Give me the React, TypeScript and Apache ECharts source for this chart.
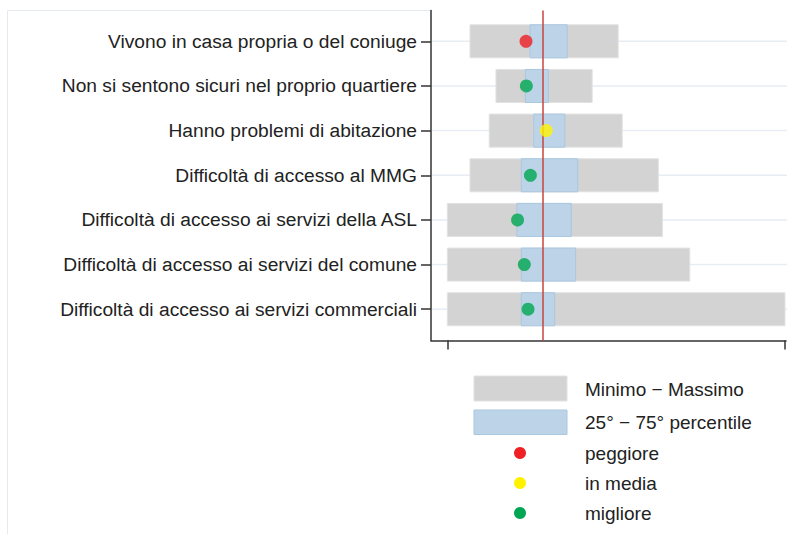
import React, { useEffect, useRef } from "react";
import * as echarts from "echarts";

const categories = [
  "Vivono in casa propria o del coniuge",
  "Non si sentono sicuri nel proprio quartiere",
  "Hanno problemi di abitazione",
  "Difficoltà di accesso al MMG",
  "Difficoltà di accesso ai servizi della ASL",
  "Difficoltà di accesso ai servizi del comune",
  "Difficoltà di accesso ai servizi commerciali",
];
const minValues = [6.7, 14.4, 12.4, 6.7, 0, 0, 0];
const maxValues = [50.6, 42.9, 51.8, 62.5, 63.7, 71.8, 100];
const p25Values = [24.5, 23.1, 25.6, 21.9, 20.6, 21.9, 21.9];
const p75Values = [35.5, 29.9, 34.8, 38.6, 36.7, 38.0, 31.8];
const areaValues = [23.3, 23.4, 29.3, 24.6, 20.8, 22.8, 23.9];
const areaStatus = ["peggiore", "migliore", "in media", "migliore", "migliore", "migliore", "migliore"];
const referenceValue = 28.3;
const xTicks = [0, 100];
const legendLabels = ["Minimo \u2212 Massimo", "25\u00b0 \u2212 75\u00b0 percentile", "peggiore", "in media", "migliore"];

const GRAY = "#d3d3d3";
const GRAY_BORDER = "#e2e2e2";
const BLUE = "#bdd4e8";
const BLUE_BORDER = "#a9c7e0";
const statusColors: Record<string, string> = {
  peggiore: "#ee2024",
  "in media": "#fff200",
  migliore: "#00a651",
};
const FONT = "'Liberation Sans', Arial, sans-serif";
const TEXT = "#222222";

function rangeItem(lo: number[], hi: number[], fill: string, stroke: string) {
  return (params: any, api: any) => {
    const i = api.value(0);
    const a = api.coord([lo[i], i]);
    const b = api.coord([hi[i], i]);
    const h = api.size([0, 0.74])[1];
    return {
      type: "rect",
      shape: { x: a[0], y: a[1] - h / 2, width: b[0] - a[0], height: h },
      style: { fill, stroke, lineWidth: 1 },
    };
  };
}

export default function App() {
  const ref = useRef<HTMLDivElement>(null);
  useEffect(() => {
    if (!ref.current) return;
    const chart = echarts.init(ref.current, null, { renderer: "svg" });
    const idx = categories.map((_, i) => [i]);
    const statusSeries = ["peggiore", "in media", "migliore"].map((s) => ({
      type: "scatter",
      name: s,
      z: 10,
      symbol: "circle",
      symbolSize: 13,
      itemStyle: { color: statusColors[s] },
      data: areaValues
        .map((v, i) => (areaStatus[i] === s ? [v, i] : null))
        .filter((d) => d !== null),
      silent: true,
    }));
    const legendRows = [389, 422, 453, 483, 513];
    chart.setOption({
      animation: false,
      grid: { left: 431, right: 1, top: 10.5, bottom: 193.5, containLabel: false },
      xAxis: {
        type: "value",
        min: -4.84,
        max: 100.3,
        axisLine: { show: true, onZero: false, lineStyle: { color: "#333", width: 1.5 } },
        axisTick: { show: true, customValues: xTicks, length: 9, lineStyle: { color: "#333", width: 1.5 } },
        axisLabel: { show: false },
        splitLine: { show: false },
      },
      yAxis: {
        type: "value",
        inverse: true,
        min: -0.69,
        max: 6.7,
        axisLine: { show: true, onZero: false, lineStyle: { color: "#333", width: 1.5 } },
        axisTick: {
          show: true,
          customValues: categories.map((_, i) => i),
          length: 10,
          lineStyle: { color: "#333", width: 1.5 },
        },
        axisLabel: {
          show: true,
          customValues: categories.map((_, i) => i),
          formatter: (v: number) => categories[Math.round(v)] ?? "",
          margin: 14,
          fontSize: 19.2,
          fontFamily: FONT,
          color: TEXT,
        },
        splitLine: { show: false },
      },
      series: [
        {
          type: "custom",
          name: "grid",
          z: 0,
          silent: true,
          data: idx,
          renderItem: (params: any, api: any) => {
            const i = api.value(0);
            const y = api.coord([0, i])[1];
            const cs = params.coordSys;
            return {
              type: "line",
              shape: { x1: cs.x + 1, y1: y, x2: cs.x + cs.width + 1, y2: y },
              style: { stroke: "#e6edf4", lineWidth: 1.5 },
            };
          },
        },
        {
          type: "custom",
          name: "Minimo \u2212 Massimo",
          z: 1,
          silent: true,
          data: idx,
          renderItem: rangeItem(minValues, maxValues, GRAY, GRAY_BORDER),
        },
        {
          type: "custom",
          name: "25\u00b0 \u2212 75\u00b0 percentile",
          z: 2,
          silent: true,
          data: idx,
          renderItem: rangeItem(p25Values, p75Values, BLUE, BLUE_BORDER),
          markLine: {
            silent: true,
            z: 3,
            symbol: "none",
            label: { show: false },
            lineStyle: { color: "#c8453e", width: 1.5, type: "solid" },
            data: [{ xAxis: referenceValue }],
          },
        },
        ...statusSeries,
      ],
      graphic: [
        { type: "line", shape: { x1: 7.5, y1: 10.5, x2: 430, y2: 10.5 }, style: { stroke: "#e4eaf0", lineWidth: 1 }, silent: true },
        { type: "line", shape: { x1: 7.5, y1: 10.5, x2: 7.5, y2: 534 }, style: { stroke: "#e4eaf0", lineWidth: 1 }, silent: true },
        { type: "rect", shape: { x: 474, y: 376, width: 93, height: 25 }, style: { fill: GRAY, stroke: GRAY_BORDER, lineWidth: 1 }, silent: true },
        { type: "rect", shape: { x: 474, y: 410, width: 93, height: 24.5 }, style: { fill: BLUE, stroke: BLUE_BORDER, lineWidth: 1 }, silent: true },
        { type: "circle", shape: { cx: 520, cy: legendRows[2], r: 6 }, style: { fill: statusColors["peggiore"] }, silent: true },
        { type: "circle", shape: { cx: 520, cy: legendRows[3], r: 6 }, style: { fill: statusColors["in media"] }, silent: true },
        { type: "circle", shape: { cx: 520, cy: legendRows[4], r: 6 }, style: { fill: statusColors["migliore"] }, silent: true },
        ...legendLabels.map((t, k) => ({
          type: "text",
          x: 585,
          y: legendRows[k],
          silent: true,
          style: {
            text: t,
            fill: TEXT,
            font: `19px ${FONT}`,
            textVerticalAlign: "middle",
            verticalAlign: "middle",
            textAlign: "left",
          },
        })),
      ],
    });
    return () => chart.dispose();
  }, []);
  return <div ref={ref} style={{ width: 787, height: 534, position: "absolute", left: 0, top: 0 }} />;
}
